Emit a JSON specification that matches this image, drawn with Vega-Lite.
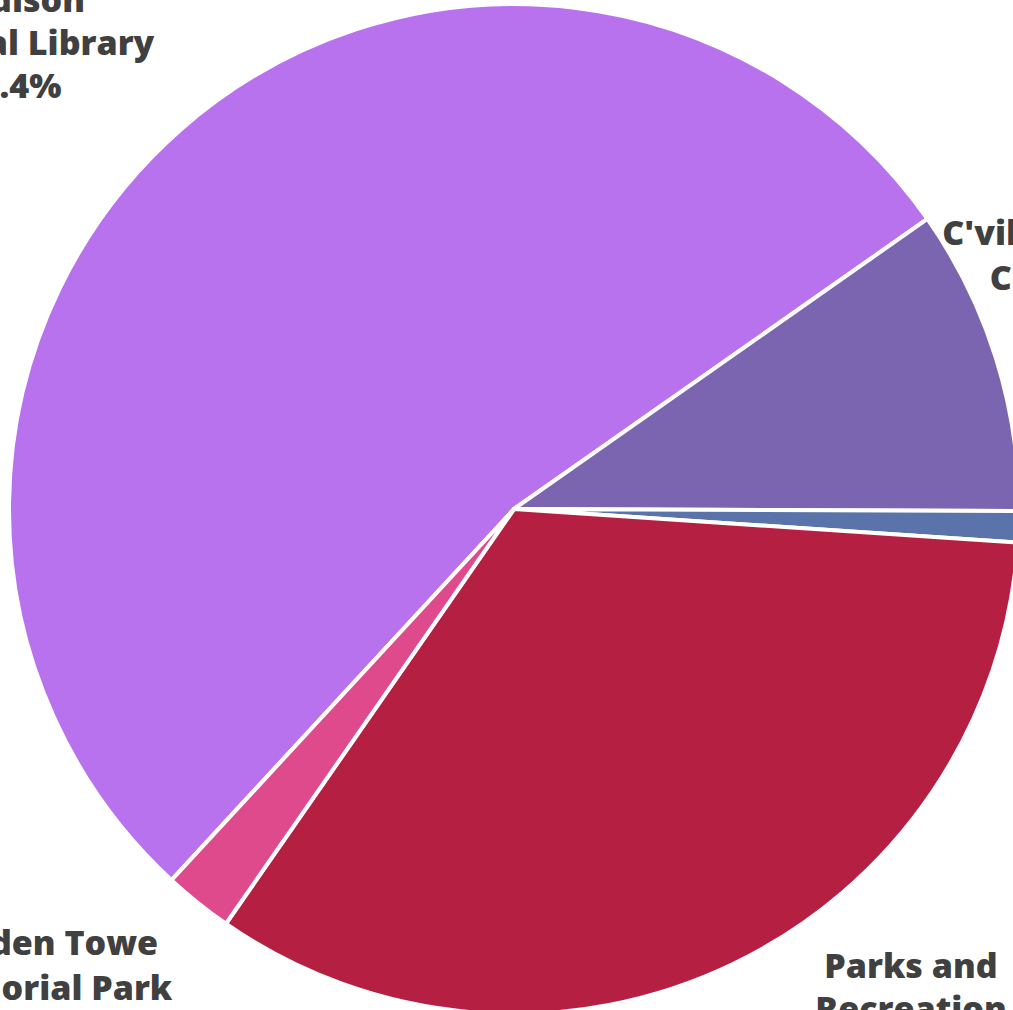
{
  "$schema": "https://vega.github.io/schema/vega-lite/v6.json",
  "width": 1028,
  "height": 1018,
  "padding": 0,
  "autosize": {"type": "none"},
  "background": "white",
  "config": {"view": {"stroke": null}},
  "data": {
    "values": [
      {"name": "Jefferson-Madison Regional Library", "label": "Jefferson-\nMadison\nRegional Library\n53.4%", "value": 53.4, "k": 1},
      {"name": "C'ville Albemarle Convention", "label": "C'ville Albemarle\nConvention\n9.8%", "value": 9.8, "k": 2},
      {"name": "Other", "label": "Other\n1.0%", "value": 1.0, "k": 3},
      {"name": "Parks and Recreation", "label": "Parks and\nRecreation\n33.6%", "value": 33.6, "k": 4},
      {"name": "Darden Towe Memorial Park", "label": "Darden Towe\nMemorial Park\n2.2%", "value": 2.2, "k": 5}
    ]
  },
  "encoding": {
    "theta": {"field": "value", "type": "quantitative", "stack": true, "scale": {"range": [3.8869, 10.1701]}},
    "order": {"field": "k", "type": "quantitative"}
  },
  "layer": [
    {
      "mark": {"type": "arc", "outerRadius": 505, "stroke": "white", "strokeWidth": 4, "strokeJoin": "round"},
      "encoding": {
        "color": {
          "field": "name", "type": "nominal", "legend": null,
          "scale": {
            "domain": ["Jefferson-Madison Regional Library", "C'ville Albemarle Convention", "Other", "Parks and Recreation", "Darden Towe Memorial Park"],
            "range": ["#B972EE", "#7B65B0", "#5A73AB", "#B51F42", "#DE4A8C"]
          }
        }
      }
    },
    {
      "mark": {"type": "text", "radius": 505, "dx": -171, "dy": -160, "align": "center", "baseline": "alphabetic", "font": "Open Sans", "fontWeight": 800, "fontSize": 34, "lineHeight": 43, "lineBreak": "\n", "fill": "#404040"},
      "encoding": {"text": {"condition": {"test": "datum.k === 1", "field": "label"}, "value": ""}}
    },
    {
      "mark": {"type": "text", "radius": 505, "dx": 95, "dy": -113, "align": "center", "baseline": "alphabetic", "font": "Open Sans", "fontWeight": 800, "fontSize": 34, "lineHeight": 45, "lineBreak": "\n", "fill": "#404040"},
      "encoding": {"text": {"condition": {"test": "datum.k === 2", "field": "label"}, "value": ""}}
    },
    {
      "mark": {"type": "text", "radius": 505, "dx": 178, "dy": 14, "align": "center", "baseline": "alphabetic", "font": "Open Sans", "fontWeight": 800, "fontSize": 34, "lineHeight": 43, "lineBreak": "\n", "fill": "#404040"},
      "encoding": {"text": {"condition": {"test": "datum.k === 4", "field": "label"}, "value": ""}}
    },
    {
      "mark": {"type": "text", "radius": 505, "dx": -155, "dy": 52, "align": "center", "baseline": "alphabetic", "font": "Open Sans", "fontWeight": 800, "fontSize": 34, "lineHeight": 45, "lineBreak": "\n", "fill": "#404040"},
      "encoding": {"text": {"condition": {"test": "datum.k === 5", "field": "label"}, "value": ""}}
    }
  ]
}
